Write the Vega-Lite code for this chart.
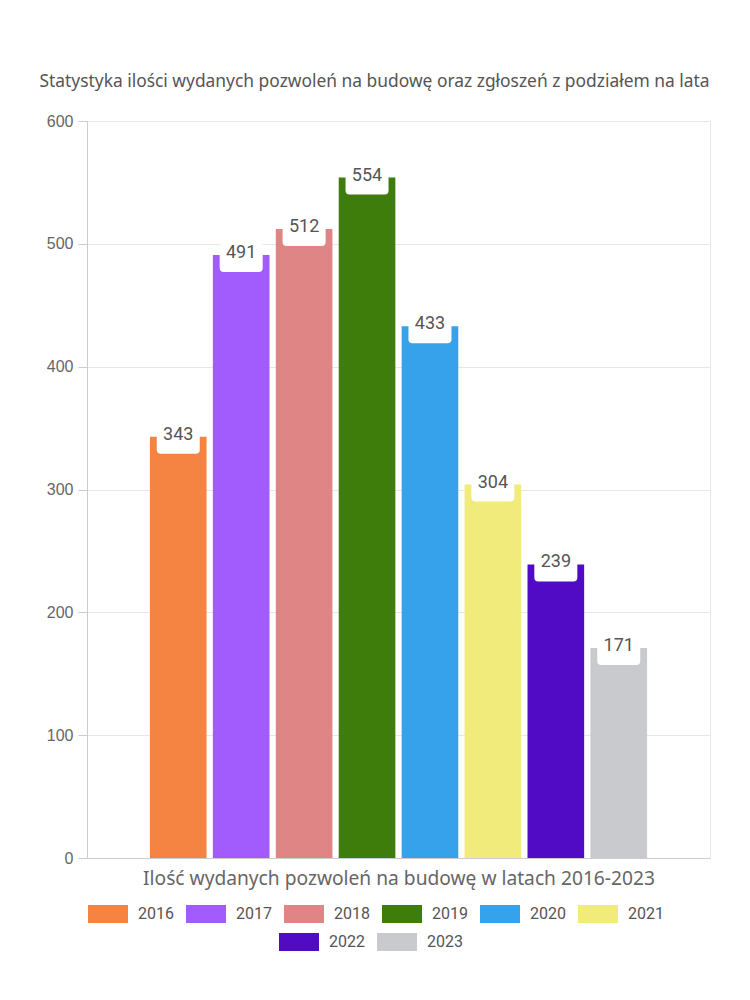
{
  "$schema": "https://vega.github.io/schema/vega-lite/v6.json",
  "width": 623,
  "height": 737,
  "autosize": {"type": "none"},
  "padding": {"left": 87, "top": 121, "right": 40, "bottom": 142},
  "background": "white",
  "config": {
    "view": {"stroke": "#e6e6e6"},
    "font": "Noto Sans",
    "legend": {
      "title": null,
      "labelFont": "Roboto",
      "labelFontSize": 16,
      "labelColor": "#555555",
      "symbolType": "M-1,-0.45L1,-0.45L1,0.45L-1,0.45Z",
      "symbolSize": 1600,
      "symbolStrokeWidth": 0,
      "symbolOpacity": 1,
      "labelOffset": 10,
      "columnPadding": 12,
      "rowPadding": 10,
      "orient": "none"
    }
  },
  "title": {
    "text": "Statystyka ilości wydanych pozwoleń na budowę oraz zgłoszeń z podziałem na lata",
    "anchor": "middle",
    "frame": "group",
    "dx": -24,
    "offset": 23,
    "fontSize": 17.4,
    "fontWeight": "normal",
    "color": "#555555",
    "font": "Noto Sans"
  },
  "data": {
    "values": [
      {"year": "2016", "value": 343},
      {"year": "2017", "value": 491},
      {"year": "2018", "value": 512},
      {"year": "2019", "value": 554},
      {"year": "2020", "value": 433},
      {"year": "2021", "value": 304},
      {"year": "2022", "value": 239},
      {"year": "2023", "value": 171}
    ]
  },
  "encoding": {
    "x": {
      "field": "year",
      "type": "nominal",
      "scale": {"domain": ["2016","2017","2018","2019","2020","2021","2022","2023"], "paddingInner": 0.1, "paddingOuter": 1.06},
      "axis": {
        "title": "Ilość wydanych pozwoleń na budowę w latach 2016-2023",
        "labels": false,
        "ticks": false,
        "domain": true,
        "domainColor": "#cccccc",
        "titleFontSize": 19.2,
        "titleColor": "#666666",
        "titleFontWeight": "normal",
        "titleFont": "Noto Sans",
        "titlePadding": 11
      }
    },
    "y": {
      "field": "value",
      "type": "quantitative",
      "scale": {"domain": [0, 600]},
      "axis": {
        "values": [0, 100, 200, 300, 400, 500, 600],
        "title": null,
        "grid": true,
        "gridColor": "#e6e6e6",
        "domainColor": "#cccccc",
        "tickColor": "#cccccc",
        "tickSize": 9,
        "labelPadding": 5,
        "labelFont": "Liberation Sans",
        "labelFontSize": 16,
        "labelColor": "#666666"
      }
    }
  },
  "layer": [
    {
      "transform": [{"filter": {"field": "year", "oneOf": ["2016","2017","2018","2019","2020","2021"]}}],
      "mark": {"type": "bar"},
      "encoding": {
        "color": {
          "field": "year",
          "type": "nominal",
          "scale": {"domain": ["2016","2017","2018","2019","2020","2021"], "range": ["#f58442", "#a25bfd", "#e08585", "#3e7c0b", "#36a2eb", "#f0eb7b"]},
          "legend": {"orient": "none", "legendX": 1, "legendY": 773, "columns": 6, "direction": "horizontal"}
        }
      }
    },
    {
      "transform": [{"filter": {"field": "year", "oneOf": ["2022","2023"]}}],
      "mark": {"type": "bar"},
      "encoding": {
        "color": {
          "field": "year",
          "type": "nominal",
          "scale": {"domain": ["2022","2023"], "range": ["#520bc4", "#c9cacd"]},
          "legend": {"orient": "none", "legendX": 192, "legendY": 801, "columns": 2, "direction": "horizontal"}
        }
      }
    },
    {
      "mark": {
        "type": "point",
        "shape": "M-0.814,-0.837L0.814,-0.837Q1,-0.837 1,-0.651L1,0.651Q1,0.837 0.814,0.837L-0.814,0.837Q-1,0.837 -1,0.651L-1,-0.651Q-1,-0.837 -0.814,-0.837Z",
        "size": 1849,
        "filled": true,
        "color": "white",
        "opacity": 1,
        "strokeWidth": 0,
        "yOffset": -1
      }
    },
    {
      "mark": {
        "type": "text",
        "font": "Roboto",
        "fontSize": 18,
        "color": "#555555",
        "baseline": "middle",
        "dy": -2
      },
      "encoding": {"text": {"field": "value", "type": "quantitative"}}
    }
  ],
  "resolve": {"scale": {"color": "independent"}, "legend": {"color": "independent"}}
}
